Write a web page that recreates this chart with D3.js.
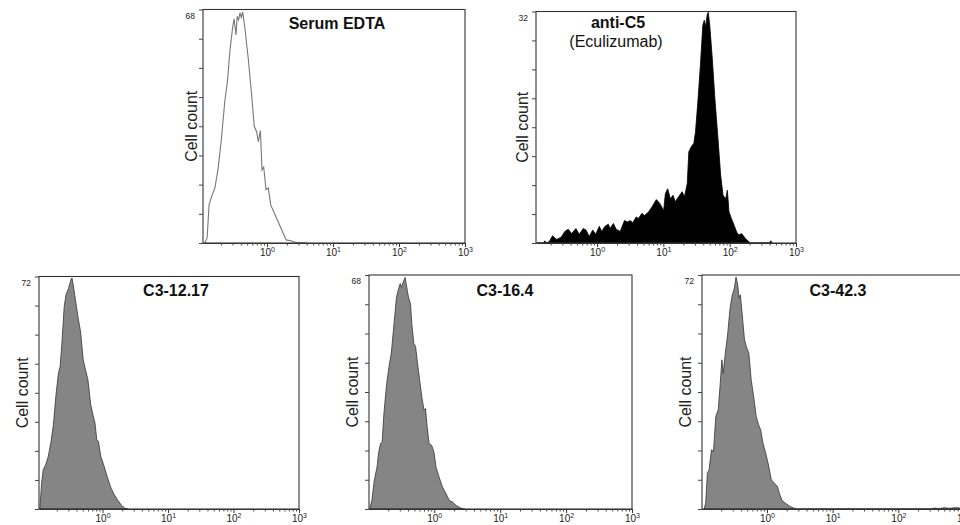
<!DOCTYPE html>
<html>
<head>
<meta charset="utf-8">
<script src="https://cdn.jsdelivr.net/npm/d3@7"></script>
<style>
  body { margin: 0; background: #fff; }
  svg { display: block; font-family: "Liberation Sans", Arial, Helvetica, sans-serif; }
</style>
</head>
<body>
<svg id="chart" width="960" height="525"></svg>
<script>
// histogram vertices: [log10 fluorescence, cell count]
const serumEdta = [
  [-0.944, 0], [-0.908, 1.4], [-0.878, 11.1], [-0.84, 13.5], [-0.79, 16], [-0.74, 21.8],
  [-0.69, 30.5], [-0.64, 41.2], [-0.6, 47], [-0.563, 55.8], [-0.522, 62.6], [-0.5, 65.3],
  [-0.47, 60.6], [-0.452, 66], [-0.43, 65], [-0.41, 67], [-0.39, 65.7], [-0.37, 67.3],
  [-0.335, 62.6], [-0.285, 53.8], [-0.233, 43.1], [-0.193, 33.9], [-0.157, 32.4], [-0.132, 29.5],
  [-0.1, 32.7], [-0.076, 21.3], [-0.05, 22.1], [-0.015, 15.5], [0.02, 16], [0.056, 11.1],
  [0.122, 8.2], [0.2, 4.8], [0.29, 0.9], [0.376, 0.6], [0.45, 0.1], [0.6, 0]
]

const antiC5 = [
  [-0.913, 0], [-0.8, 0], [-0.79, 0.3], [-0.76, 0], [-0.72, 0.2], [-0.67, 1.0], [-0.61, 0.5],
  [-0.54, 0.8], [-0.485, 1.6], [-0.435, 1.9], [-0.383, 1.3], [-0.318, 2.0], [-0.268, 1.2],
  [-0.207, 2.0], [-0.167, 1.8], [-0.117, 0.9], [-0.065, 1.8], [-0.02, 1.2], [0.035, 2.3],
  [0.07, 1.6], [0.12, 2.3], [0.17, 2.6], [0.197, 2.0], [0.247, 2.7], [0.288, 1.9], [0.35, 1.6],
  [0.414, 3.1], [0.46, 2.9], [0.5, 3.1], [0.54, 2.8], [0.59, 3.6], [0.625, 3.4], [0.677, 4.1],
  [0.715, 3.8], [0.777, 4.3], [0.83, 5.0], [0.894, 6.0], [0.944, 5.5], [1.005, 4.5], [1.03, 6.8],
  [1.065, 7.5], [1.106, 6.1], [1.146, 6.6], [1.18, 5.7], [1.23, 6.4], [1.283, 7.1], [1.318, 6.4],
  [1.36, 8.2], [1.384, 12.6], [1.42, 13.3], [1.46, 13.8], [1.485, 15.4], [1.52, 19.5], [1.56, 24.8],
  [1.595, 30.1], [1.617, 30.8], [1.636, 29.9], [1.662, 31.6], [1.677, 31.9], [1.7, 30.1],
  [1.738, 25.5], [1.777, 20], [1.823, 14.5], [1.864, 9.4], [1.9, 6.6], [1.94, 6.1], [1.965, 7.3],
  [1.99, 4.3], [2.026, 3.4], [2.065, 2.5], [2.106, 1.5], [2.14, 1.1], [2.18, 1.3], [2.24, 0.6],
  [2.31, 0], [2.6, 0], [2.62, 0.3], [2.64, 0]
]

const c3_12_17 = [
  [-0.957, 0], [-0.93, 8.0], [-0.905, 12.2], [-0.868, 13.7], [-0.828, 16.3], [-0.786, 20.9],
  [-0.75, 26.1], [-0.713, 34.9], [-0.673, 42.1], [-0.647, 44.2], [-0.62, 51.4], [-0.585, 62.7],
  [-0.558, 66.3], [-0.518, 68.4], [-0.48, 71.2], [-0.465, 71.5], [-0.44, 68.4], [-0.414, 64.8],
  [-0.372, 59.1], [-0.336, 55], [-0.295, 46.2], [-0.26, 43.1], [-0.223, 40], [-0.18, 32.3],
  [-0.146, 29.2], [-0.115, 26.6], [-0.088, 21.5], [-0.062, 20.9], [-0.026, 16.3], [0.025, 13.2],
  [0.078, 9.6], [0.129, 6.5], [0.18, 4.4], [0.233, 2.7], [0.284, 1.3], [0.335, 0.3], [0.387, 0]
]

const c3_16_4 = [
  [-0.98, 0], [-0.946, 2.5], [-0.91, 8.3], [-0.868, 12.2], [-0.842, 16.6], [-0.815, 19.0],
  [-0.79, 19.5], [-0.764, 27.7], [-0.722, 36.4], [-0.687, 41.3], [-0.65, 45.6], [-0.61, 53.9],
  [-0.573, 61.6], [-0.547, 63.6], [-0.516, 65.5], [-0.496, 64.4], [-0.47, 66], [-0.443, 67.3],
  [-0.423, 65.1], [-0.392, 61.6], [-0.361, 59.7], [-0.341, 53.9], [-0.31, 48.1], [-0.284, 47.3],
  [-0.257, 42.8], [-0.222, 37.5], [-0.186, 32.2], [-0.155, 28.7], [-0.133, 29.2], [-0.108, 23.9],
  [-0.078, 19.0], [-0.04, 18.5], [-0.005, 16.6], [0.026, 12.2], [0.073, 9.3], [0.124, 6.4],
  [0.177, 4.5], [0.228, 2.5], [0.279, 2.0], [0.332, 1.0], [0.4, 0.3], [0.46, 0]
]

const c3_42_3 = [
  [-0.958, 0], [-0.934, 1.8], [-0.908, 11], [-0.882, 12.1], [-0.846, 18.2], [-0.815, 17.7],
  [-0.78, 28.5], [-0.743, 30.5], [-0.712, 38.7], [-0.687, 45.9], [-0.666, 41.8], [-0.635, 47.9],
  [-0.6, 53.6], [-0.565, 61.3], [-0.534, 65.4], [-0.497, 68], [-0.472, 71.4], [-0.446, 69],
  [-0.426, 64.9], [-0.405, 65.9], [-0.38, 60.3], [-0.343, 52.1], [-0.308, 49.5], [-0.277, 48],
  [-0.241, 39.8], [-0.2, 34.1], [-0.165, 28.5], [-0.128, 25.9], [-0.097, 24.4], [-0.062, 20.3],
  [-0.026, 17.7], [0.015, 14.2], [0.066, 9.0], [0.108, 8.0], [0.158, 7.0], [0.195, 4.4],
  [0.23, 2.6], [0.28, 1.8], [0.35, 0.8], [0.44, 0], [2.5, 0], [2.55, 0.3], [2.62, 0.1],
  [2.7, 0.4], [2.78, 0.2], [2.86, 0.4], [2.94, 0.3], [3.0, 0.3]
]

const panelTitles = [["Serum EDTA"], ["anti-C5", "(Eculizumab)"], ["C3-12.17"], ["C3-16.4"], ["C3-42.3"]]
const panelYMax = [68, 32, 72, 68, 72]
const majorTicks = [1, 10, 100, 1000]
const majorExp = ["0", "1", "2", "3"]
const yLabel = "Cell count"

const panels = [
  { data: serumEdta, left: 203, right: 465, top: 9.5, bottom: 243, xMinExp: -0.97, titleX: 337, titleY: 29, labelDx: 6, fill: "none", stroke: "#777" },
  { data: antiC5, left: 536, right: 796, top: 11.5, bottom: 243, xMinExp: -0.92, titleX: 618, titleY: 28, labelDx: 8, fill: "#000", stroke: "#000" },
  { data: c3_12_17, left: 39, right: 299, top: 276.5, bottom: 509, xMinExp: -0.97, titleX: 176, titleY: 296, labelDx: 11, fill: "#858585", stroke: "#333" },
  { data: c3_16_4, left: 369, right: 632, top: 275, bottom: 509, xMinExp: -0.99, titleX: 505, titleY: 296, labelDx: 11, fill: "#858585", stroke: "#333" },
  { data: c3_42_3, left: 702, right: 964, top: 275, bottom: 509, xMinExp: -0.99, titleX: 838, titleY: 296, labelDx: 11, fill: "#858585", stroke: "#333" }
]

const svg = d3.select("#chart")

const minorTicks = []
for (let k = -1; k < 3; k++) {
  for (let m = 2; m <= 9; m++) minorTicks.push(m * Math.pow(10, k))
}

panels.forEach(function (p, i) {
  const g = svg.append("g")
  const yMax = panelYMax[i]

  const x = d3.scaleLog().domain([Math.pow(10, p.xMinExp), 1000]).range([p.left, p.right])
  const y = d3.scaleLinear().domain([0, yMax]).range([p.bottom, p.top])

  const clipId = "clip" + i
  g.append("clipPath").attr("id", clipId)
    .append("rect")
    .attr("x", p.left).attr("y", p.top)
    .attr("width", p.right - p.left).attr("height", p.bottom - p.top)

  const px = (d) => x(Math.pow(10, d[0]))

  if (p.fill === "none") {
    const line = d3.line().x(px).y((d) => y(d[1]))
    g.append("path")
      .attr("clip-path", `url(#${clipId})`)
      .attr("d", line(p.data))
      .attr("fill", "none")
      .attr("stroke", p.stroke)
      .attr("stroke-width", 1.1)
  } else {
    const area = d3.area().x(px).y0(p.bottom).y1((d) => y(d[1]))
    g.append("path")
      .attr("clip-path", `url(#${clipId})`)
      .attr("d", area(p.data))
      .attr("fill", p.fill)
      .attr("stroke", p.stroke)
      .attr("stroke-width", 0.8)
      .attr("stroke-linejoin", "round")
  }

  // frame
  g.append("rect")
    .attr("x", p.left).attr("y", p.top)
    .attr("width", p.right - p.left).attr("height", p.bottom - p.top)
    .attr("fill", "none")
    .attr("stroke", "#333")
    .attr("stroke-width", 1.1)

  // x axis, minor then major ticks
  const minor = g.append("g")
    .attr("transform", `translate(0,${p.bottom})`)
    .call(d3.axisBottom(x).tickValues(minorTicks.filter((v) => v >= x.domain()[0]))
      .tickSize(2.5).tickSizeOuter(0).tickFormat(""))
  minor.select(".domain").attr("stroke", "#333")
  minor.selectAll(".tick line").attr("stroke", "#444")

  const major = g.append("g")
    .attr("transform", `translate(0,${p.bottom})`)
    .call(d3.axisBottom(x).tickValues(majorTicks).tickSize(4).tickSizeOuter(0).tickFormat(""))
  major.select(".domain").remove()
  major.selectAll(".tick line").attr("stroke", "#333")
  major.selectAll(".tick text").remove()

  major.selectAll(".tick").each(function (v, j) {
    const t = d3.select(this).append("text")
      .attr("y", 12.5)
      .attr("text-anchor", "middle")
      .attr("fill", "#222")
      .style("font-size", "10px")
    t.append("tspan").text("10")
    t.append("tspan").attr("dy", -4).style("font-size", "7px").text(majorExp[j])
  })

  // y axis ticks
  const yTicks = d3.range(0, 9).map((k) => (yMax * k) / 8)
  const yAxis = g.append("g")
    .attr("transform", `translate(${p.left},0)`)
    .call(d3.axisLeft(y).tickValues(yTicks).tickSize(4).tickSizeOuter(0).tickFormat(""))
  yAxis.select(".domain").remove()
  yAxis.selectAll(".tick line").attr("stroke", "#444")

  g.append("text")
    .attr("x", p.left - 8)
    .attr("y", p.top + 9)
    .attr("text-anchor", "end")
    .attr("fill", "#222")
    .style("font-size", "8.5px")
    .text(yMax)

  // y label
  g.append("text")
    .attr("transform", `translate(${p.left - p.labelDx},${(p.top + p.bottom) / 2}) rotate(-90)`)
    .attr("text-anchor", "middle")
    .attr("fill", "#222")
    .style("font-size", "16px")
    .text(yLabel)

  // title
  panelTitles[i].forEach(function (line, k) {
    g.append("text")
      .attr("x", p.titleX - k * 2)
      .attr("y", p.titleY + k * 19)
      .attr("text-anchor", "middle")
      .attr("fill", "#111")
      .style("font-size", "16px")
      .style("font-weight", k === 0 ? "bold" : "normal")
      .text(line)
  })
})
</script>
</body>
</html>
